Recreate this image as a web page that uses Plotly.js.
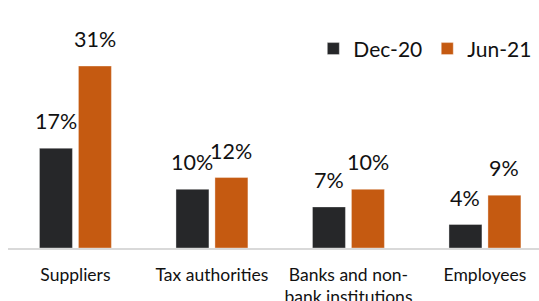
<!DOCTYPE html>
<html><head><meta charset="utf-8">
<script src="https://cdn.plot.ly/plotly-3.0.1.min.js"></script>
<style>html,body{margin:0;padding:0;background:#fff;}#chart{width:539px;height:301px;}</style>
</head><body><div id="chart"></div>
<script>
const categories = ["Suppliers", "Tax authorities", "Banks and non-<br>bank institutions", "Employees"];
const seriesNames = ["Dec-20", "Jun-21"];
const dec20 = [17, 10, 7, 4];
const jun21 = [31, 12, 10, 9];
const colors = ["#262729", "#c55a11"];
const FONT = "Lato, 'Noto Sans', sans-serif";

const series = [dec20, jun21];
const traces = series.map((vals, i) => ({
  type: "bar", name: seriesNames[i], x: categories, y: vals,
  marker: {color: colors[i], line: {color: "rgba(255,255,255,0.6)", width: 0.6}},
  hoverinfo: "skip"
}));

const annotations = [];
series.forEach((vals, i) => {
  vals.forEach((v, j) => {
    annotations.push({
      x: categories[j], y: v, xref: "x", yref: "y",
      text: v + "%", showarrow: false, yanchor: "bottom",
      xshift: i === 0 ? -19.5 : 19.5, yshift: 12,
      font: {family: FONT, size: 21.5, color: "#111"}
    });
  });
});

const layout = {
  width: 539, height: 301,
  margin: {l: 8, r: 0, t: 20, b: 53},
  paper_bgcolor: "#fff", plot_bgcolor: "#fff",
  barmode: "group", bargap: 0.429, bargroupgap: 0.154,
  font: {family: FONT, color: "#111"},
  xaxis: {
    range: [-0.494, 3.396], showline: true, linecolor: "#d9d9d9", linewidth: 1.5,
    showgrid: false, zeroline: false, ticks: "", ticklabelstandoff: 10,
    tickfont: {family: FONT, size: 17.5, color: "#111"}
  },
  yaxis: {range: [0, 38.84], visible: false, showgrid: false, zeroline: false},
  showlegend: true,
  legend: {
    orientation: "h", x: 0.575, y: 0.873, xanchor: "left", yanchor: "middle",
    font: {family: FONT, size: 21, color: "#111"}, bgcolor: "rgba(0,0,0,0)",
    itemwidth: 30, tracegroupgap: 0
  },
  annotations: annotations
};

Plotly.newPlot("chart", traces, layout, {staticPlot: true, displayModeBar: false});
</script></body></html>
